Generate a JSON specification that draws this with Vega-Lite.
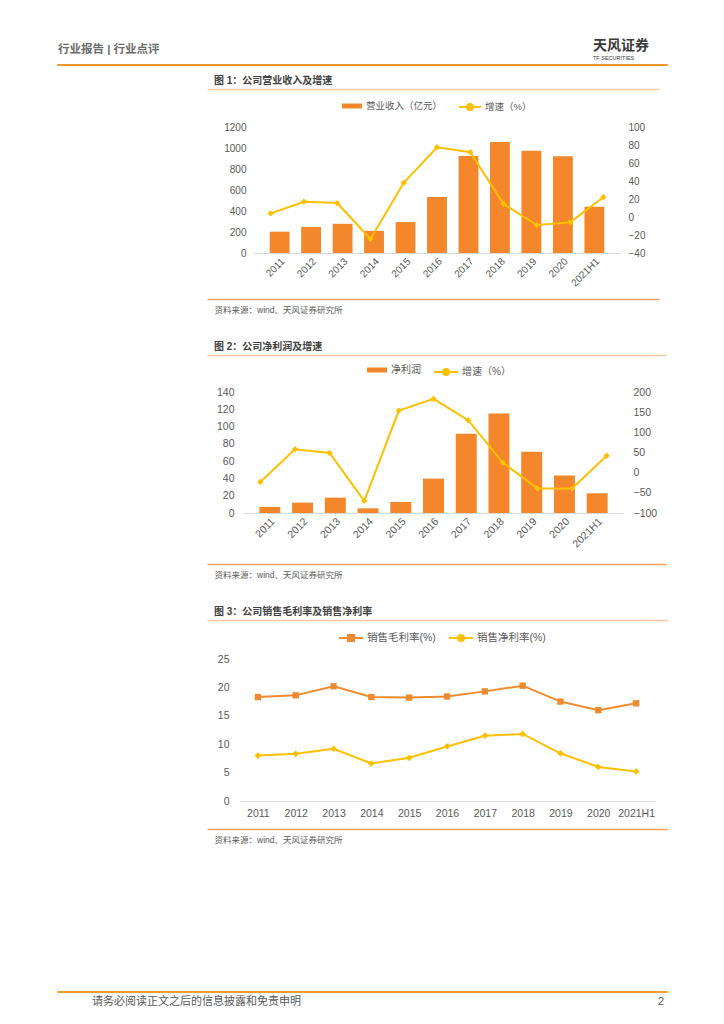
{
"$schema": "https://vega.github.io/schema/vega-lite/v6.json",
"background": "white",
"padding": {"left": 56, "top": 38, "right": 0, "bottom": 0},
"config": {
  "font": "Liberation Sans, Noto Sans CJK SC, sans-serif",
  "view": {"stroke": null},
  "axis": {"grid": false, "ticks": false, "labelColor": "#595959", "labelFontSize": 10, "domainColor": "#D9D9D9"},
  "legend": {"labelFontSize": 9.5, "labelColor": "#595959", "padding": 0, "labelOffset": 3}
},
"datasets": {
  "rev": [
    {"year": "2011", "revenue": 203, "growth": 4},
    {"year": "2012", "revenue": 247, "growth": 17},
    {"year": "2013", "revenue": 278, "growth": 15.5},
    {"year": "2014", "revenue": 211, "growth": -24.5},
    {"year": "2015", "revenue": 294, "growth": 38},
    {"year": "2016", "revenue": 534, "growth": 77.5},
    {"year": "2017", "revenue": 924, "growth": 72},
    {"year": "2018", "revenue": 1056, "growth": 14.5},
    {"year": "2019", "revenue": 973, "growth": -9},
    {"year": "2020", "revenue": 921, "growth": -6},
    {"year": "2021H1", "revenue": 441, "growth": 22}
  ],
  "profit": [
    {"year": "2011", "profit": 7, "growth": -23},
    {"year": "2012", "profit": 12, "growth": 58},
    {"year": "2013", "profit": 17.8, "growth": 49},
    {"year": "2014", "profit": 5.4, "growth": -70},
    {"year": "2015", "profit": 12.8, "growth": 154},
    {"year": "2016", "profit": 39.8, "growth": 183},
    {"year": "2017", "profit": 91.6, "growth": 130},
    {"year": "2018", "profit": 115, "growth": 25},
    {"year": "2019", "profit": 71, "growth": -39},
    {"year": "2020", "profit": 43.3, "growth": -39.5},
    {"year": "2021H1", "profit": 22.8, "growth": 42}
  ],
  "margin": [
    {"year": "2011", "gross": 18.3, "net": 8.0},
    {"year": "2012", "gross": 18.6, "net": 8.3},
    {"year": "2013", "gross": 20.2, "net": 9.2},
    {"year": "2014", "gross": 18.3, "net": 6.6},
    {"year": "2015", "gross": 18.2, "net": 7.6},
    {"year": "2016", "gross": 18.4, "net": 9.6},
    {"year": "2017", "gross": 19.3, "net": 11.5},
    {"year": "2018", "gross": 20.3, "net": 11.8},
    {"year": "2019", "gross": 17.5, "net": 8.4},
    {"year": "2020", "gross": 16.0, "net": 6.0},
    {"year": "2021H1", "gross": 17.2, "net": 5.2}
  ]
},
"spacing": 0,
"bounds": "flush",
"resolve": {"scale": {"fill": "independent", "stroke": "independent", "color": "independent"}, "legend": {"fill": "independent", "stroke": "independent", "color": "independent"}},
"vconcat": [
  {
    "width": 610, "height": 1,
    "view": {"stroke": "#F0962E", "strokeWidth": 1},
    "data": {"values": []},
    "mark": "point",
    "title": {"text": "行业报告 | 行业点评", "anchor": "start", "frame": "group", "dx": 1, "offset": 9, "fontSize": 11.5, "fontWeight": "bold", "color": "#6B6B6B"}
  },
  {
    "width": 610, "height": 1,
    "data": {"values": []},
    "mark": "point",
    "title": {"text": "天风证券", "subtitle": "TF SECURITIES", "anchor": "start", "frame": "group", "dx": 536, "offset": 4, "fontSize": 14, "fontWeight": "bold", "color": "#3A3A3A", "subtitleFontSize": 5.5, "subtitleColor": "#3A3A3A", "subtitlePadding": 3}
  },
  {"width": 1, "height": 61, "data": {"values": []}, "mark": "point"},
  {
    "width": 610, "height": 126,
    "data": {"name": "rev"},
    "title": {"text": "图 1：公司营业收入及增速", "anchor": "start", "frame": "group", "dx": 157, "offset": 3, "fontSize": 10, "fontWeight": "bold", "color": "#404040"},
    "layer": [
      {
        "mark": {"type": "bar"},
        "encoding": {
          "x": {"field": "year", "type": "ordinal", "sort": null, "scale": {"type": "band", "range": [197, 563], "paddingInner": 0.37, "paddingOuter": 0.5}, "axis": {"orient": "bottom", "title": null, "domain": true, "domainColor": "#D9D9D9", "labelAngle": -45, "labelPadding": 3, "labelFontSize": 10}},
          "y": {"field": "revenue", "type": "quantitative", "scale": {"domain": [0, 1200], "nice": false}, "axis": {"orient": "left", "title": null, "domain": false, "format": "d", "values": [0, 200, 400, 600, 800, 1000, 1200], "offset": -197, "labelPadding": 8, "labelFontSize": 10}},
          "fill": {"datum": "营业收入（亿元）", "type": "nominal", "scale": {"range": ["#F4862B"]}, "legend": {"title": null, "orient": "none", "legendX": 284, "legendY": -32, "symbolType": "M-1,-0.25H1V0.25H-1Z", "symbolSize": 400, "labelFontSize": 9.5}}
        }
      },
      {
        "mark": {"type": "line", "strokeWidth": 2},
        "encoding": {
          "x": {"field": "year", "type": "ordinal", "sort": null, "scale": {"type": "point", "range": [197, 563], "padding": 0.5}, "axis": null},
          "y": {"field": "growth", "type": "quantitative", "scale": {"domain": [-40, 100], "nice": false, "zero": false}, "axis": {"orient": "right", "title": null, "domain": false, "values": [-40, -20, 0, 20, 40, 60, 80, 100], "offset": -47, "labelPadding": 8, "labelFontSize": 10}},
          "stroke": {"datum": "增速（%）", "type": "nominal", "scale": {"range": ["#FFC000"]}, "legend": {"title": null, "orient": "none", "legendX": 401, "legendY": -32, "symbolType": "M-1,0H1M0.28,0A0.28,0.28,0,1,1,-0.28,0A0.28,0.28,0,1,1,0.28,0", "symbolSize": 484, "symbolStrokeWidth": 2, "symbolFillColor": "#FFC000", "labelFontSize": 9.5}}
        }
      },
      {
        "mark": {"type": "point", "shape": "diamond", "filled": true, "size": 40, "color": "#FFC000", "opacity": 1},
        "encoding": {
          "x": {"field": "year", "type": "ordinal", "sort": null, "scale": {"type": "point", "range": [197, 563], "padding": 0.5}, "axis": null},
          "y": {"field": "growth", "type": "quantitative", "scale": {"domain": [-40, 100], "nice": false, "zero": false}, "axis": null}
        }
      },
      {
        "mark": {"type": "point", "opacity": 0},
        "encoding": {
          "x": {"datum": 0, "type": "quantitative", "scale": {"domain": [0, 1], "range": [150, 602]}, "axis": {"orient": "top", "offset": 38, "domain": true, "domainColor": "#F8CBA4", "domainWidth": 1.5, "labels": false, "ticks": false, "title": null}},
          "y": {"datum": 0, "type": "quantitative", "scale": {"domain": [0, 1]}, "axis": null}
        }
      },
      {
        "mark": {"type": "point", "opacity": 0},
        "encoding": {
          "x": {"datum": 0, "type": "quantitative", "scale": {"domain": [0, 1], "range": [150, 602]}, "axis": {"orient": "bottom", "offset": 46, "domain": true, "domainColor": "#F5A25D", "domainWidth": 1.5, "labels": false, "ticks": false, "title": "资料来源：wind、天风证券研究所", "titleX": 157, "titleY": 10, "titleAlign": "left", "titleAnchor": "start", "titleBaseline": "middle", "titleAngle": 0, "titleFontSize": 8.5, "titleFontWeight": "normal", "titleColor": "#595959"}},
          "y": {"datum": 0, "type": "quantitative", "scale": {"domain": [0, 1]}, "axis": null}
        }
      }
    ],
    "resolve": {"scale": {"x": "independent", "y": "independent"}, "axis": {"x": "independent", "y": "independent"}}
  },
  {"width": 1, "height": 139, "data": {"values": []}, "mark": "point"},
  {
    "width": 610, "height": 121,
    "data": {"name": "profit"},
    "title": {"text": "图 2：公司净利润及增速", "anchor": "start", "frame": "group", "dx": 157, "offset": 3, "fontSize": 10, "fontWeight": "bold", "color": "#404040"},
    "layer": [
      {
        "mark": {"type": "bar"},
        "encoding": {
          "x": {"field": "year", "type": "ordinal", "sort": null, "scale": {"type": "band", "range": [186, 567], "paddingInner": 0.36, "paddingOuter": 0.5}, "axis": {"orient": "bottom", "title": null, "domain": true, "domainColor": "#D9D9D9", "labelAngle": -45, "labelPadding": 3, "labelFontSize": 10.5}},
          "y": {"field": "profit", "type": "quantitative", "scale": {"domain": [0, 140], "nice": false}, "axis": {"orient": "left", "title": null, "domain": false, "values": [0, 20, 40, 60, 80, 100, 120, 140], "offset": -186, "labelPadding": 9, "labelFontSize": 10.5}},
          "fill": {"datum": "净利润", "type": "nominal", "scale": {"range": ["#F4862B"]}, "legend": {"title": null, "orient": "none", "legendX": 309, "legendY": -33, "symbolType": "M-1,-0.25H1V0.25H-1Z", "symbolSize": 400, "labelFontSize": 10}}
        }
      },
      {
        "mark": {"type": "line", "strokeWidth": 2},
        "encoding": {
          "x": {"field": "year", "type": "ordinal", "sort": null, "scale": {"type": "point", "range": [186, 567], "padding": 0.5}, "axis": null},
          "y": {"field": "growth", "type": "quantitative", "scale": {"domain": [-100, 200], "nice": false, "zero": false}, "axis": {"orient": "right", "title": null, "domain": false, "values": [-100, -50, 0, 50, 100, 150, 200], "offset": -43, "labelPadding": 9, "labelFontSize": 10.5}},
          "stroke": {"datum": "增速（%）", "type": "nominal", "scale": {"range": ["#FFC000"]}, "legend": {"title": null, "orient": "none", "legendX": 376, "legendY": -33, "symbolType": "M-1,0H1M0.25,0A0.25,0.25,0,1,1,-0.25,0A0.25,0.25,0,1,1,0.25,0", "symbolSize": 576, "symbolStrokeWidth": 2, "symbolFillColor": "#FFC000", "labelFontSize": 10}}
        }
      },
      {
        "mark": {"type": "point", "shape": "diamond", "filled": true, "size": 40, "color": "#FFC000", "opacity": 1},
        "encoding": {
          "x": {"field": "year", "type": "ordinal", "sort": null, "scale": {"type": "point", "range": [186, 567], "padding": 0.5}, "axis": null},
          "y": {"field": "growth", "type": "quantitative", "scale": {"domain": [-100, 200], "nice": false, "zero": false}, "axis": null}
        }
      },
      {
        "mark": {"type": "point", "opacity": 0},
        "encoding": {
          "x": {"datum": 0, "type": "quantitative", "scale": {"domain": [0, 1], "range": [150, 609]}, "axis": {"orient": "top", "offset": 37, "domain": true, "domainColor": "#F8CBA4", "domainWidth": 1.5, "labels": false, "ticks": false, "title": null}},
          "y": {"datum": 0, "type": "quantitative", "scale": {"domain": [0, 1]}, "axis": null}
        }
      },
      {
        "mark": {"type": "point", "opacity": 0},
        "encoding": {
          "x": {"datum": 0, "type": "quantitative", "scale": {"domain": [0, 1], "range": [150, 609]}, "axis": {"orient": "bottom", "offset": 51, "domain": true, "domainColor": "#F5A25D", "domainWidth": 1.5, "labels": false, "ticks": false, "title": "资料来源：wind、天风证券研究所", "titleX": 157, "titleY": 10, "titleAlign": "left", "titleAnchor": "start", "titleBaseline": "middle", "titleAngle": 0, "titleFontSize": 8.5, "titleFontWeight": "normal", "titleColor": "#595959"}},
          "y": {"datum": 0, "type": "quantitative", "scale": {"domain": [0, 1]}, "axis": null}
        }
      }
    ],
    "resolve": {"scale": {"x": "independent", "y": "independent"}, "axis": {"x": "independent", "y": "independent"}}
  },
  {"width": 1, "height": 146, "data": {"values": []}, "mark": "point"},
  {
    "width": 610, "height": 142,
    "data": {"name": "margin"},
    "title": {"text": "图 3：公司销售毛利率及销售净利率", "anchor": "start", "frame": "group", "dx": 157, "offset": 3, "fontSize": 10, "fontWeight": "bold", "color": "#404040"},
    "layer": [
      {
        "mark": {"type": "line", "strokeWidth": 2},
        "encoding": {
          "x": {"field": "year", "type": "ordinal", "sort": null, "scale": {"type": "point", "range": [182, 598], "padding": 0.5}, "axis": {"orient": "bottom", "title": null, "domain": true, "domainColor": "#D9D9D9", "labelAngle": 0, "labelPadding": 7, "labelFontSize": 10.5}},
          "y": {"field": "gross", "type": "quantitative", "scale": {"domain": [0, 25], "nice": false}, "axis": {"orient": "left", "title": null, "domain": false, "values": [0, 5, 10, 15, 20, 25], "offset": -182, "labelPadding": 10, "labelFontSize": 10.5}},
          "stroke": {"datum": "销售毛利率(%)", "type": "nominal", "scale": {"range": ["#F08A2E"]}, "legend": {"title": null, "orient": "none", "legendX": 281, "legendY": -34, "symbolType": "M-1,0H1M-0.25,-0.25H0.25V0.25H-0.25Z", "symbolSize": 576, "symbolStrokeWidth": 2, "symbolFillColor": "#F08A2E", "labelFontSize": 10.5}}
        }
      },
      {
        "mark": {"type": "point", "shape": "square", "filled": true, "size": 40, "color": "#F08A2E", "opacity": 1},
        "encoding": {
          "x": {"field": "year", "type": "ordinal", "sort": null, "scale": {"type": "point", "range": [182, 598], "padding": 0.5}, "axis": null},
          "y": {"field": "gross", "type": "quantitative", "scale": {"domain": [0, 25], "nice": false}, "axis": null}
        }
      },
      {
        "mark": {"type": "line", "strokeWidth": 2},
        "encoding": {
          "x": {"field": "year", "type": "ordinal", "sort": null, "scale": {"type": "point", "range": [182, 598], "padding": 0.5}, "axis": null},
          "y": {"field": "net", "type": "quantitative", "scale": {"domain": [0, 25], "nice": false}, "axis": null},
          "color": {"datum": "销售净利率(%)", "type": "nominal", "scale": {"range": ["#FFC000"]}, "legend": {"title": null, "orient": "none", "legendX": 391, "legendY": -34, "symbolType": "M-1,0H1M0.25,0A0.25,0.25,0,1,1,-0.25,0A0.25,0.25,0,1,1,0.25,0", "symbolSize": 576, "symbolStrokeWidth": 2, "symbolFillColor": "#FFC000", "labelFontSize": 10.5}}
        }
      },
      {
        "mark": {"type": "point", "shape": "diamond", "filled": true, "size": 45, "color": "#FFC000", "opacity": 1},
        "encoding": {
          "x": {"field": "year", "type": "ordinal", "sort": null, "scale": {"type": "point", "range": [182, 598], "padding": 0.5}, "axis": null},
          "y": {"field": "net", "type": "quantitative", "scale": {"domain": [0, 25], "nice": false}, "axis": null}
        }
      },
      {
        "mark": {"type": "point", "opacity": 0},
        "encoding": {
          "x": {"datum": 0, "type": "quantitative", "scale": {"domain": [0, 1], "range": [150, 612]}, "axis": {"orient": "top", "offset": 39, "domain": true, "domainColor": "#F8CBA4", "domainWidth": 1.5, "labels": false, "ticks": false, "title": null}},
          "y": {"datum": 0, "type": "quantitative", "scale": {"domain": [0, 1]}, "axis": null}
        }
      },
      {
        "mark": {"type": "point", "opacity": 0},
        "encoding": {
          "x": {"datum": 0, "type": "quantitative", "scale": {"domain": [0, 1], "range": [150, 612]}, "axis": {"orient": "bottom", "offset": 28, "domain": true, "domainColor": "#F5A25D", "domainWidth": 1.5, "labels": false, "ticks": false, "title": "资料来源：wind、天风证券研究所", "titleX": 157, "titleY": 10, "titleAlign": "left", "titleAnchor": "start", "titleBaseline": "middle", "titleAngle": 0, "titleFontSize": 8.5, "titleFontWeight": "normal", "titleColor": "#595959"}},
          "y": {"datum": 0, "type": "quantitative", "scale": {"domain": [0, 1]}, "axis": null}
        }
      }
    ],
    "resolve": {"scale": {"x": "independent", "y": "independent"}, "axis": {"x": "independent", "y": "independent"}}
  },
  {"width": 1, "height": 190, "data": {"values": []}, "mark": "point"},
  {
    "width": 610, "height": 1,
    "view": {"stroke": "#F0A030", "strokeWidth": 1},
    "data": {"values": []},
    "mark": "point",
    "title": {"text": "请务必阅读正文之后的信息披露和免责申明", "orient": "bottom", "anchor": "start", "frame": "group", "dx": 35, "offset": 4, "fontSize": 11, "fontWeight": "normal", "color": "#595959"}
  },
  {
    "width": 610, "height": 1,
    "data": {"values": []},
    "mark": "point",
    "title": {"text": "2", "orient": "bottom", "anchor": "end", "frame": "group", "dx": -3, "offset": 3, "fontSize": 11, "fontWeight": "normal", "color": "#595959"}
  }
]
}
